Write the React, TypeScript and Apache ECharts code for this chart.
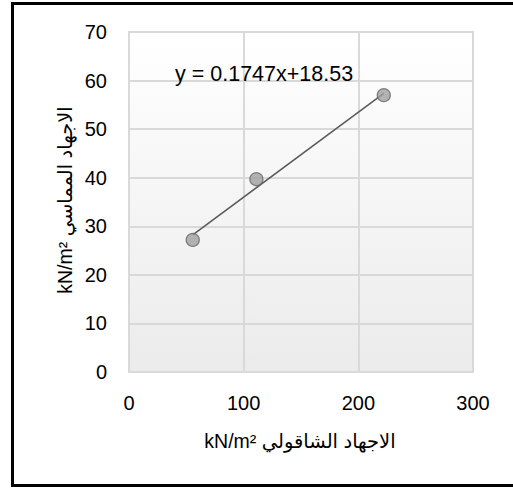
import React, { useEffect, useRef } from "react";
import * as echarts from "echarts";

const xValues = [55.6, 111.1, 222.2];
const yValues = [27.2, 39.7, 57.0];
const trendSlope = 0.1747;
const trendIntercept = 18.53;
const equationText = "y = 0.1747x+18.53";
const xAxisTitle = "kN/m² الاجهاد الشاقولي";
const yAxisTitle = "kN/m² الاجهاد المماسي";
const xMin = 0, xMax = 300, xStep = 100;
const yMin = 0, yMax = 70, yStep = 10;

const FONT = "'Liberation Sans', 'DejaVu Sans', sans-serif";

export default function App() {
  const ref = useRef<HTMLDivElement>(null);
  useEffect(() => {
    if (!ref.current) return;
    const chart = echarts.init(ref.current, null, { renderer: "svg" });
    const pts = xValues.map((x, i) => [x, yValues[i]]);
    const x0 = Math.min(...xValues);
    const x1 = Math.max(...xValues);
    const trend = [
      [x0, trendSlope * x0 + trendIntercept],
      [x1, trendSlope * x1 + trendIntercept],
    ];
    chart.setOption({
      animation: false,
      backgroundColor: "#ffffff",
      grid: {
        left: 129,
        top: 32,
        width: 344,
        height: 340,
        show: true,
        borderColor: "#d9d9d9",
        borderWidth: 2,
        backgroundColor: new echarts.graphic.LinearGradient(0, 0, 0, 1, [
          { offset: 0, color: "#ffffff" },
          { offset: 1, color: "#ebebeb" },
        ]),
      },
      xAxis: {
        type: "value",
        min: xMin,
        max: xMax,
        interval: xStep,
        axisLine: { show: false },
        axisTick: { show: false },
        splitLine: { show: true, lineStyle: { color: "#d9d9d9", width: 2 } },
        axisLabel: { color: "#000", fontSize: 20, fontFamily: FONT, margin: 21 },
      },
      yAxis: {
        type: "value",
        min: yMin,
        max: yMax,
        interval: yStep,
        axisLine: { show: false },
        axisTick: { show: false },
        splitLine: { show: true, lineStyle: { color: "#d9d9d9", width: 2 } },
        axisLabel: { color: "#000", fontSize: 20, fontFamily: FONT, margin: 22 },
      },
      series: [
        {
          type: "line",
          data: trend,
          symbol: "none",
          lineStyle: { color: "#5a5a5a", width: 1.5 },
          z: 2,
        },
        {
          type: "scatter",
          data: pts,
          symbol: "circle",
          symbolSize: 13,
          itemStyle: { color: "#a0a0a0", borderColor: "#666666", borderWidth: 1.3 },
          z: 3,
        },
      ],
      graphic: [
        {
          type: "text",
          left: 175,
          top: 63,
          style: { text: equationText, fill: "#000", fontSize: 21.5, fontFamily: FONT },
          z: 10,
        },
        {
          type: "text",
          x: 300,
          y: 441,
          style: {
            text: xAxisTitle,
            fill: "#000",
            fontSize: 19.5,
            fontFamily: FONT,
            align: "center",
            verticalAlign: "middle",
          },
        },
        {
          type: "text",
          x: 65,
          y: 200,
          rotation: Math.PI / 2,
          style: {
            text: yAxisTitle,
            fill: "#000",
            fontSize: 19.5,
            fontFamily: FONT,
            align: "center",
            verticalAlign: "middle",
          },
        },
        { type: "line", shape: { x1: 12, y1: 3.5, x2: 513, y2: 3.5 }, style: { stroke: "#000", lineWidth: 3 } },
        { type: "line", shape: { x1: 12.5, y1: 2, x2: 12.5, y2: 487 }, style: { stroke: "#000", lineWidth: 3 } },
        { type: "line", shape: { x1: 11, y1: 485.5, x2: 513, y2: 485.5 }, style: { stroke: "#000", lineWidth: 3 } },
      ],
    });
    return () => chart.dispose();
  }, []);
  return (
    <div
      ref={ref}
      style={{ position: "fixed", left: 0, top: 0, width: 513, height: 491 }}
    />
  );
}
